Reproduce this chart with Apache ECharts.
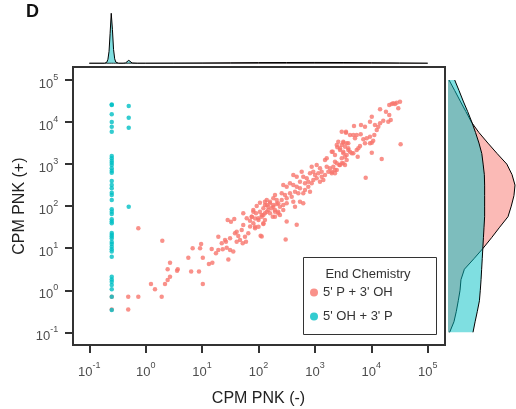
<!DOCTYPE html>
<html><head><meta charset="utf-8">
<script src="https://cdn.jsdelivr.net/npm/echarts@6/dist/echarts.min.js"></script>
<style>html,body{margin:0;padding:0;background:#fff}#c{width:516px;height:409px}</style>
</head><body><div id="c"></div>
<script>
const FONT = '"Liberation Sans", Arial, Helvetica, sans-serif';
const panelLabel = 'D';
const xTitle = 'CPM PNK (-)';
const yTitle = 'CPM PNK (+)';
const legendTitle = 'End Chemistry';
const seriesNames = ["5' P + 3' OH", "5' OH + 3' P"];
const tickValues = [0.1, 1, 10, 100, 1000, 10000, 100000];

// 5' P + 3' OH (red)
const redX = [0.74,1.97,1.24,1.46,2.2,2.45,2.7,2.45,2.7,3.7,3.6,5.7,6.4,6.8,8.8,9.2,9.6,10.3,10.3,13.2,
15.2,14.8,17.6,19.4,19.4,22.3,23.2,25.5,27.3,29.2,28.4,32.5,37.2,31.3,35.7,26.5,31.3,38.3,43.8,41,
47,41,50.4,53.7,53.7,61.8,70.6,75.7,57.6,65.9,60,52.5,80.9,90.3,99,106,114,122,130,86.7,
100,109,92.9,106,130,160,183,210,196,224,179,140,149,122,130,2600,3190,3660,2990,3420,
2500,3910,4190,3660,3190,2790,1990,2270,1620,1510,2990,3420,4800,5510,2440,2710,2120,1850,2270,2990,
3420,877,1076,1230,1320,1620,1730,1990,819,937,1005,1150,1320,1510,1410,1230,1076,414,476,583,
622,716,764,877,937,667,544,362,414,275,316,476,544,667,764,819,622,508,444,258,
295,362,388,316,258,414,544,622,444,196,183,210,160,140,130,149,183,224,240,275,
316,171,196,224,275,240,196,160,140,122,81,76,87,100,114,122,81,71,87,316,
476,114,303,32300,28200,26300,23000,20800,30100,24500,14300,18200,20800,22100,20000,16300,14300,13300,11600,12500,
10200,9480,7730,6560,4930,3560,4800,5510,6490,5140,7210,8280,9480,11300,10800,10200,3190,3910,2440,2790,
3190,3910,4490,5890,6310,7730,9480,2070,3660,3190,2790,2270,2440,1990,2270,33100,10200,15300,5740,7950,
2990,3560,4190,0.49,0.74,0.49,1.92,0.25,0.25];
const redY = [30,15,1.4,1.05,1.4,1.75,2.1,3.15,4.5,3.15,2.9,5.9,2.8,10,2.8,10,12.6,5.9,1.4,4.2,
4.5,9.6,7.6,9.1,18.8,13.1,9.4,15.7,10.3,5.4,46.9,42.7,49.5,9.1,8.3,14.3,17.2,22.6,19.5,14.3,
15.7,24.7,27.1,35.6,67.6,51.4,45.1,56.1,18.8,22.6,14.3,13.1,81,67.6,51.4,73.8,61.6,88.9,67.6,32.5,
32.5,19.8,101,121,128,117,97,112,73.8,67.6,56.1,107,81,37.6,46.9,3410,3230,3120,2850,2590,
2510,2380,1970,1650,1810,2160,1970,1650,1370,1250,1370,1500,1810,2160,1045,953,867,794,724,1045,
953,867,953,794,659,867,659,604,604,659,551,604,501,551,419,381,460,551,501,659,
501,460,381,349,419,349,381,349,318,318,290,290,266,242,290,221,202,202,221,202,
184,202,168,154,140,128,128,117,97,184,154,140,128,140,107,97,107,117,97,107,
117,89,81,74,81,62,56,68,74,62,74,56,51,47,56,39,39,33,30,43,
36,19,16,30500,28900,26900,26900,25400,21200,27900,20100,17600,14700,11200,10200,10800,9340,7750,8510,6470,
13400,10200,7750,8510,8050,5580,4920,4920,5110,4110,3890,4110,4480,4920,3600,3230,3410,3120,2850,2380,
1970,2160,1810,2380,2690,3120,3120,1970,1250,1045,953,1140,724,659,604,2960,1870,1320,1500,475,
5900,5900,4920,0.70,0.70,0.35,0.70,0.70,0.35];

// 5' OH + 3' P (cyan)
const cyanX = [0.25,0.25,0.25,0.25,0.25,0.25,0.25,0.25,0.25,0.25,0.25,0.25,0.25,0.25,0.25,0.25,0.25,0.25,0.25,0.25,
0.25,0.25,0.25,0.25,0.25,0.25,0.25,0.25,0.25,0.25,0.25,0.25,0.25,0.25,0.25,0.25,0.25,0.25,0.25,0.25,
0.25,0.25,0.25,0.5,0.5,0.5,0.5];
const cyanY = [26300,25500,15300,10000,7750,5900,1560,1370,1200,1080,953,794,697,624,396,318,266,209,184,140,
84,74,65,49,43,39,23,21,19,17,14,12.6,10.9,9.4,8.3,6.3,2.1,1.8,1.6,1.33,
1.05,0.70,0.34,24000,12700,7300,97];

// marginal density on x (top)
const topDensX = [0.1,0.186,0.195,0.204,0.214,0.224,0.234,0.245,0.257,0.269,0.282,0.295,0.309,0.331,0.398,0.437,
0.468,0.501,0.537,0.575,0.708,1,3.16,10,31.6,100,316,1000,3160,10000,31600,100000];
const topDensRed = [0.001,0.002,0.002,0.002,0.002,0.002,0.002,0.002,0.002,0.002,0.002,0.002,0.002,0.003,0.003,0.003,
0.004,0.004,0.004,0.005,0.006,0.008,0.03,0.06,0.1,0.14,0.16,0.17,0.16,0.12,0.06,0.01];
const topDensCyan = [0,0,0.04,0.2,0.8,2.4,6,10,6.8,2.8,0.9,0.24,0.06,0,0,0.06,
0.36,0.6,0.36,0.06,0,0,0,0,0,0,0,0,0,0,0,0];

// marginal density on y (right)
const rightDensY = [0.1,0.178,0.316,0.562,1,1.78,3.16,5.62,10,17.8,31.6,56.2,100,178,316,562,1000,1780,3160,5620,
10000,17800,31600,56200,100000];
const rightDensRed = [0.011,0.040,0.056,0.069,0.081,0.087,0.11,0.174,0.236,0.293,0.347,0.403,0.425,0.443,0.450,0.43,
0.395,0.33,0.268,0.208,0.157,0.120,0.082,0.045,0.007];
const rightDensCyan = [0.168,0.182,0.197,0.211,0.217,0.222,0.226,0.230,0.234,0.238,0.242,0.246,0.246,0.246,0.246,0.244,
0.236,0.227,0.208,0.185,0.160,0.132,0.102,0.074,0.045];

const RED = '#F8766D', CYAN = '#00BFC4';
const redFill = 'rgba(248,118,109,0.5)', cyanFill = 'rgba(0,191,196,0.5)';

function supLabel(v) {
  const e = Math.round(Math.log10(v));
  return '{b|10}{s|' + e + '}';
}
const labelRich = {
  b: { fontSize: 13, lineHeight: 22, verticalAlign: 'middle', color: '#4d4d4d', fontFamily: FONT },
  s: { fontSize: 9, lineHeight: 9, verticalAlign: 'top', color: '#4d4d4d', fontFamily: FONT }
};

function rightDensity(vals, fill) {
  return function (params, api) {
    const curve = [];
    for (let i = 0; i < rightDensY.length; i++) curve.push(api.coord([vals[i], rightDensY[i]]));
    const poly = [api.coord([0, rightDensY[0]])].concat(curve, [api.coord([0, rightDensY[rightDensY.length - 1]])]);
    return {
      type: 'group',
      children: [
        { type: 'polygon', shape: { points: poly }, style: { fill: fill, stroke: null } },
        { type: 'polyline', shape: { points: curve }, style: { stroke: '#000', lineWidth: 1, fill: null } }
      ]
    };
  };
}

const chart = echarts.init(document.getElementById('c'), null, { renderer: 'canvas' });
chart.setOption({
  animation: false,
  backgroundColor: '#fff',
  grid: [
    { left: 73, top: 67, width: 372, height: 278, show: true, borderColor: '#333', borderWidth: 2, backgroundColor: 'transparent', outerBoundsMode: 'none', containLabel: false },
    { left: 89.3, top: 80, width: 338.4, height: 252.3, outerBoundsMode: 'none', containLabel: false },
    { left: 89.3, top: 13.3, width: 338.4, height: 50, outerBoundsMode: 'none', containLabel: false },
    { left: 448, top: 80, width: 67, height: 252.3, outerBoundsMode: 'none', containLabel: false }
  ],
  xAxis: [
    { gridIndex: 0, type: 'value', show: false, min: 0, max: 1 },
    { gridIndex: 1, type: 'log', logBase: 10, min: tickValues[0], max: tickValues[tickValues.length - 1], offset: 12.7,
      axisLine: { show: false }, splitLine: { show: false },
      axisTick: { show: true, length: 8, lineStyle: { color: '#333', width: 2 } },
      axisLabel: { margin: 16, formatter: supLabel, rich: labelRich, color: '#4d4d4d', fontFamily: FONT },
      name: xTitle, nameLocation: 'middle', nameGap: 46, nameMoveOverlap: false,
      nameTextStyle: { fontSize: 16, color: '#222', fontFamily: FONT } },
    { gridIndex: 2, type: 'log', logBase: 10, min: tickValues[0], max: tickValues[tickValues.length - 1], show: false },
    { gridIndex: 3, type: 'value', min: 0, max: 0.45, show: false }
  ],
  yAxis: [
    { gridIndex: 0, type: 'value', show: false, min: 0, max: 1 },
    { gridIndex: 1, type: 'log', logBase: 10, min: tickValues[0], max: tickValues[tickValues.length - 1], offset: 16.3,
      axisLine: { show: false }, splitLine: { show: false },
      axisTick: { show: true, length: 8, lineStyle: { color: '#333', width: 2 } },
      axisLabel: { margin: 14.7, padding: [8, 0, 0, 0], formatter: supLabel, rich: labelRich, color: '#4d4d4d', fontFamily: FONT },
      name: yTitle, nameLocation: 'middle', nameGap: 45, nameMoveOverlap: false,
      nameTextStyle: { fontSize: 16, color: '#222', fontFamily: FONT } },
    { gridIndex: 2, type: 'value', min: 0, max: 10, show: false },
    { gridIndex: 3, type: 'log', logBase: 10, min: tickValues[0], max: tickValues[tickValues.length - 1], show: false }
  ],
  legend: {
    data: seriesNames, orient: 'vertical', left: 310, top: 286, padding: 0,
    icon: 'circle', itemWidth: 8, itemHeight: 8, itemGap: 11, z: 10,
    textStyle: { fontSize: 13, color: '#333', fontFamily: FONT }
  },
  graphic: [
    { type: 'rect', z: 5, shape: { x: 303.5, y: 257.5, width: 133, height: 77 }, style: { fill: '#fff', stroke: '#333', lineWidth: 1 } },
    { type: 'text', z: 6, x: 368, y: 274, style: { text: legendTitle, fontSize: 13, fontFamily: FONT, fill: '#333', align: 'center', verticalAlign: 'middle' } },
    { type: 'text', z: 6, x: 26, y: 12, style: { text: panelLabel, fontSize: 18, fontWeight: 'bold', fontFamily: FONT, fill: '#111', align: 'left', verticalAlign: 'middle' } }
  ],
  series: [
    { name: seriesNames[0], type: 'scatter', xAxisIndex: 1, yAxisIndex: 1, symbolSize: 4.5,
      itemStyle: { color: RED, opacity: 0.8 }, data: redX.map((x, i) => [x, redY[i]]) },
    { name: seriesNames[1], type: 'scatter', xAxisIndex: 1, yAxisIndex: 1, symbolSize: 4.5,
      itemStyle: { color: CYAN, opacity: 0.8 }, data: cyanX.map((x, i) => [x, cyanY[i]]) },
    { type: 'line', xAxisIndex: 2, yAxisIndex: 2, symbol: 'none', silent: true,
      lineStyle: { color: '#000', width: 1 }, areaStyle: { color: RED, opacity: 0.5 },
      data: topDensX.map((x, i) => [x, topDensRed[i]]) },
    { type: 'line', xAxisIndex: 2, yAxisIndex: 2, symbol: 'none', silent: true,
      lineStyle: { color: '#000', width: 1 }, areaStyle: { color: CYAN, opacity: 0.5 },
      data: topDensX.map((x, i) => [x, topDensCyan[i]]) },
    { type: 'custom', xAxisIndex: 3, yAxisIndex: 3, silent: true, clip: false,
      renderItem: rightDensity(rightDensRed, redFill), data: [[0, 1]] },
    { type: 'custom', xAxisIndex: 3, yAxisIndex: 3, silent: true, clip: false,
      renderItem: rightDensity(rightDensCyan, cyanFill), data: [[0, 1]] }
  ]
});
</script>
</body></html>
